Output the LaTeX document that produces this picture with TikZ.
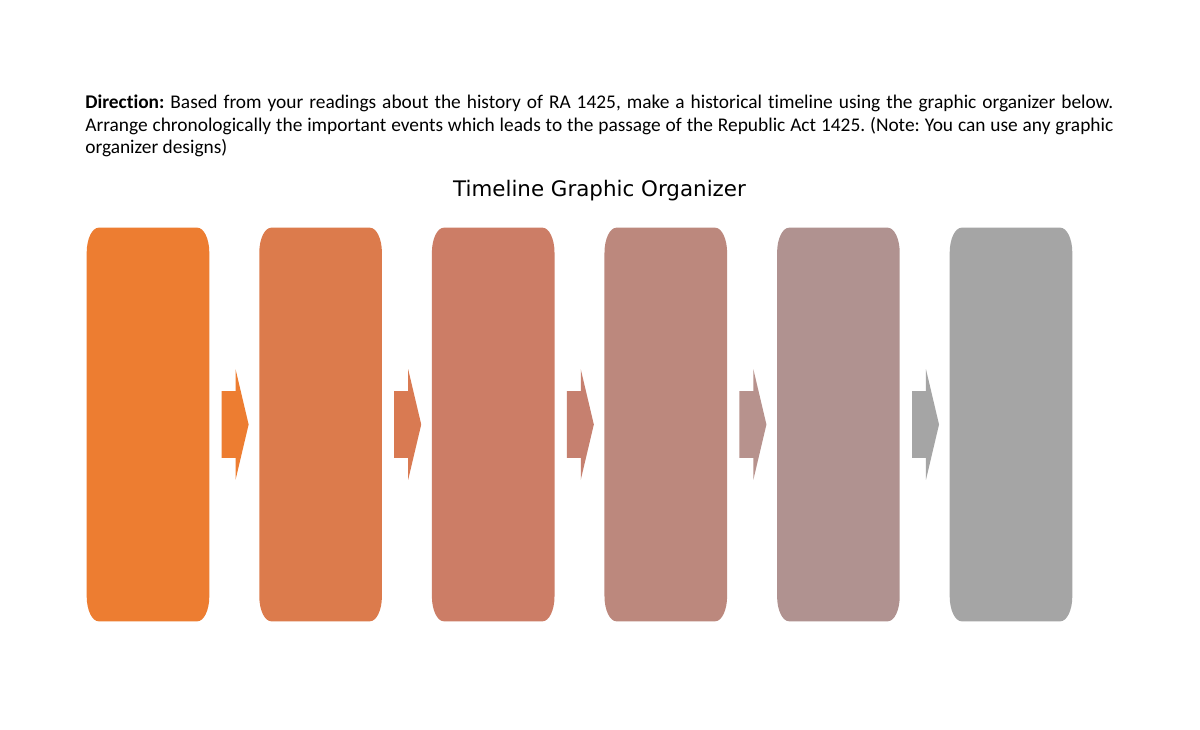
\documentclass[tikz,border=0pt]{standalone}
\usepackage{fontspec}
\setmainfont{Carlito}[Ligatures={NoCommon,NoContextual}]
\newfontfamily\titlefont{DejaVu Sans}
\usetikzlibrary{shapes.arrows}
\def\u{0.64pt}
\definecolor{boxA}{HTML}{ED7D31}
\definecolor{boxB}{HTML}{DC7B4C}
\definecolor{boxC}{HTML}{CC7D66}
\definecolor{boxD}{HTML}{BC887D}
\definecolor{boxE}{HTML}{B09290}
\definecolor{boxF}{HTML}{A5A5A5}
\definecolor{arrA}{HTML}{ED7D31}
\definecolor{arrB}{HTML}{D97A52}
\definecolor{arrC}{HTML}{C6806F}
\definecolor{arrD}{HTML}{B7928D}
\definecolor{arrE}{HTML}{A5A5A5}
\tikzset{
  tlbox/.style={minimum width=122*\u, minimum height=393*\u, inner sep=0},
  tlarrow/.style={single arrow, fill=#1, inner xsep=0, inner ysep=33*\u,
    minimum height=27*\u, single arrow head extend=22*\u,
    single arrow tip angle=153.4, anchor=tail},
  corner/.style={x radius=12*\u, y radius=25*\u}
}
\frenchspacing
\begin{document}
\begin{tikzpicture}[x=\u, y=\u]
  \fill[white] (0,0) rectangle (1200,729);
  % Text
  \node[anchor=north west, inner sep=0, text width=657.92pt, align=justify,
    font=\fontsize{12.4}{14.4}\selectfont] (direction) at (85,634)
    {\textbf{Direction:} Based from your readings about the history of RA 1425, make a historical timeline using the graphic organizer below.\linebreak
     Arrange chronologically the important events which leads to the passage of the Republic Act 1425. (Note: You can use any graphic\linebreak
     organizer designs)};
  \node[anchor=base, inner sep=0, font=\titlefont\fontsize{13.7}{16}\selectfont]
    (title) at (599.5,532) {Timeline Graphic Organizer};
  % Boxes
  \foreach \i/\c in {1/boxA, 2/boxB, 3/boxC, 4/boxD, 5/boxE, 6/boxF} {
    \node[tlbox] (b\i) at ({148+172.6*(\i-1)},304.5) {};
    \fill[\c] ([yshift=25*\u]b\i.south west) -- ([yshift=-25*\u]b\i.north west)
      arc[corner, start angle=180, end angle=90] -- ([xshift=-12*\u]b\i.north east)
      arc[corner, start angle=90, end angle=0] -- ([yshift=25*\u]b\i.south east)
      arc[corner, start angle=0, end angle=-90] -- ([xshift=12*\u]b\i.south west)
      arc[corner, start angle=270, end angle=180] -- cycle;
  }
  % Arrows
  \foreach \i/\c in {1/arrA, 2/arrB, 3/arrC, 4/arrD, 5/arrE}
    \node[tlarrow=\c] (a\i) at ([xshift=12*\u]b\i.east) {};
\end{tikzpicture}
\end{document}
